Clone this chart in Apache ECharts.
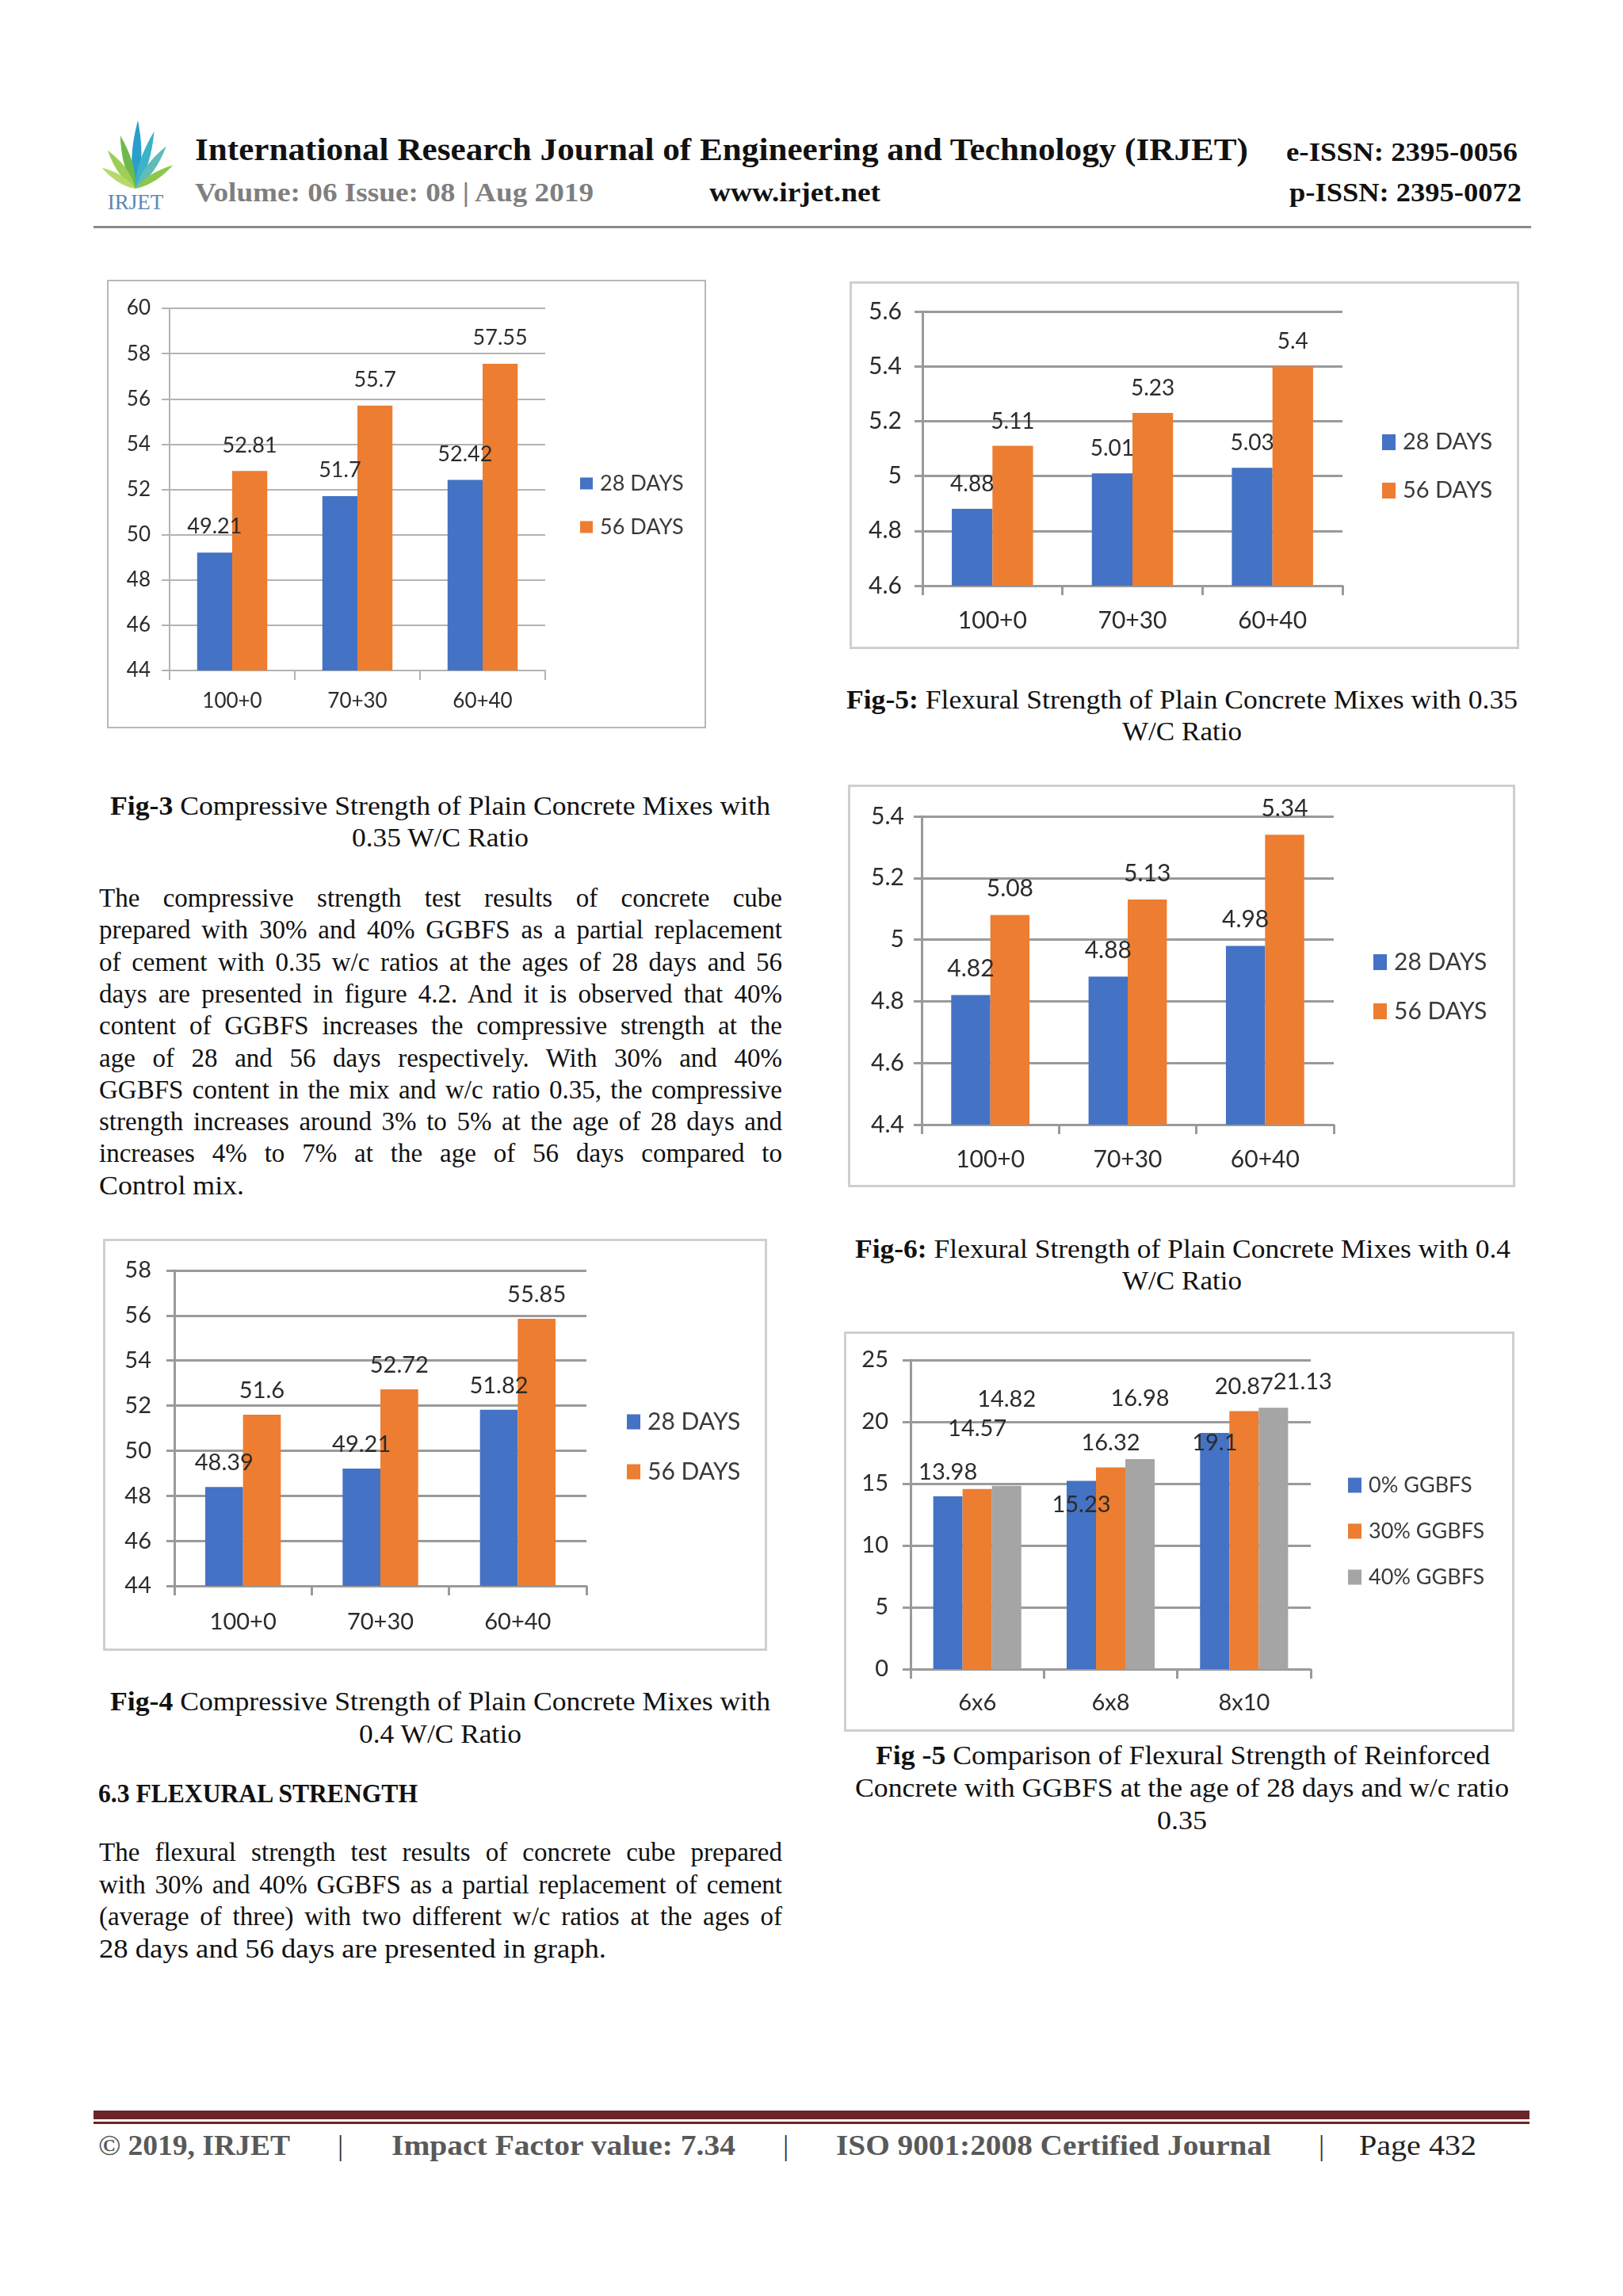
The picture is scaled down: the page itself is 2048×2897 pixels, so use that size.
<!DOCTYPE html>
<html><head><meta charset="utf-8">
<script src="https://cdn.jsdelivr.net/npm/echarts@6/dist/echarts.min.js"></script>
<style>
html,body{margin:0;padding:0;background:#fff;}
body{width:2048px;height:2897px;position:relative;overflow:hidden;}
.t{position:absolute;white-space:nowrap;font-family:"Liberation Serif","DejaVu Serif",serif;line-height:1.2;color:#111;transform-origin:0 0;}
.b{font-weight:bold;}
.g{color:#7f7f7f;}
.f{color:#595959;font-weight:bold;}
.chart{position:absolute;box-sizing:border-box;}
.rule{position:absolute;}
</style></head><body>

<!-- logo -->
<svg style="position:absolute;left:116px;top:146px" width="110" height="124" viewBox="0 0 110 124">
  <g transform="translate(55,92)">
    <path d="M0,0 C-9,-24 -7,-56 0,-86 C7,-56 9,-24 0,0Z" fill="#2a9fca" transform="rotate(2)"/>
    <path d="M0,0 C-8,-22 -6,-50 0,-76 C6,-50 8,-22 0,0Z" fill="#3bb3c9" transform="rotate(18)"/>
    <path d="M0,0 C-8,-20 -6,-44 0,-66 C6,-44 8,-20 0,0Z" fill="#5fbcb8" transform="rotate(36)"/>
    <path d="M0,0 C-7,-18 -5,-38 0,-56 C5,-38 7,-18 0,0Z" fill="#8cc84b" transform="rotate(58)"/>
    <path d="M0,0 C-8,-20 -6,-46 0,-70 C6,-46 8,-20 0,0Z" fill="#6fb94a" transform="rotate(-16)"/>
    <path d="M0,0 C-8,-18 -6,-40 0,-60 C6,-40 8,-18 0,0Z" fill="#9ccf55" transform="rotate(-36)"/>
    <path d="M0,0 C-7,-16 -5,-34 0,-50 C5,-34 7,-16 0,0Z" fill="#b8d96a" transform="rotate(-58)"/>
  </g>
  <text x="55" y="118" text-anchor="middle" font-family="Liberation Serif" font-size="27" fill="#5b86b5">IRJET</text>
</svg>

<!-- header -->
<div class="t b" data-x="246" data-y="190" data-w="1329" data-fs="40">International Research Journal of Engineering and Technology (IRJET)</div>
<div class="t b" data-x="1623" data-y="193" data-w="292" data-fs="34">e-ISSN: 2395-0056</div>
<div class="t b g" data-x="246" data-y="244" data-w="503" data-fs="34">Volume: 06 Issue: 08 | Aug 2019</div>
<div class="t b" data-x="895" data-y="244" data-w="216" data-fs="34">www.irjet.net</div>
<div class="t b" data-x="1627" data-y="244" data-w="293" data-fs="34">p-ISSN: 2395-0072</div>
<div class="rule" style="left:118px;top:285px;width:1814px;height:3px;background:#8a8a8a"></div>

<!-- charts -->
<div id="fig3" class="chart" style="left:135px;top:353px;width:756px;height:566px;border:2px solid #b8b8b8"></div>
<div id="fig5" class="chart" style="left:1072px;top:355px;width:845px;height:464px;border:3px solid #cfcfcf"></div>
<div id="fig6" class="chart" style="left:1070px;top:990px;width:842px;height:508px;border:3px solid #cfcfcf"></div>
<div id="fig4" class="chart" style="left:130px;top:1563px;width:838px;height:520px;border:3px solid #cfcfcf"></div>
<div id="figR" class="chart" style="left:1065px;top:1680px;width:846px;height:505px;border:3px solid #cfcfcf"></div>

<!-- captions and text, left column -->
<div class="t" data-x="139" data-y="1018" data-w="833" data-fs="33"><b>Fig-3</b> Compressive Strength of Plain Concrete Mixes with</div>
<div class="t" data-x="444" data-y="1058" data-w="223" data-fs="33">0.35 W/C Ratio</div>

<div class="t" data-j="1" data-x="125" data-y="1134" data-w="862" data-fs="33">The compressive strength test results of concrete cube</div>
<div class="t" data-j="1" data-x="125" data-y="1174" data-w="862" data-fs="33">prepared with 30% and 40% GGBFS as a partial replacement</div>
<div class="t" data-j="1" data-x="125" data-y="1215" data-w="862" data-fs="33">of cement with 0.35 w/c ratios at the ages of 28 days and 56</div>
<div class="t" data-j="1" data-x="125" data-y="1255" data-w="862" data-fs="33">days are presented in figure 4.2. And it is observed that 40%</div>
<div class="t" data-j="1" data-x="125" data-y="1295" data-w="862" data-fs="33">content of GGBFS increases the compressive strength at the</div>
<div class="t" data-j="1" data-x="125" data-y="1336" data-w="862" data-fs="33">age of 28 and 56 days respectively. With 30% and 40%</div>
<div class="t" data-j="1" data-x="125" data-y="1376" data-w="862" data-fs="33">GGBFS content in the mix and w/c ratio 0.35, the compressive</div>
<div class="t" data-j="1" data-x="125" data-y="1416" data-w="862" data-fs="33">strength increases around 3% to 5% at the age of 28 days and</div>
<div class="t" data-j="1" data-x="125" data-y="1456" data-w="862" data-fs="33">increases 4% to 7% at the age of 56 days compared to</div>
<div class="t" data-x="125" data-y="1497" data-w="183" data-fs="33">Control mix.</div>

<div class="t" data-x="139" data-y="2148" data-w="833" data-fs="33"><b>Fig-4</b> Compressive Strength of Plain Concrete Mixes with</div>
<div class="t" data-x="453" data-y="2189" data-w="205" data-fs="33">0.4 W/C Ratio</div>
<div class="t b" data-x="124" data-y="2264" data-w="403" data-fs="33">6.3 FLEXURAL STRENGTH</div>
<div class="t" data-j="1" data-x="125" data-y="2338" data-w="862" data-fs="33">The flexural strength test results of concrete cube prepared</div>
<div class="t" data-j="1" data-x="125" data-y="2379" data-w="862" data-fs="33">with 30% and 40% GGBFS as a partial replacement of cement</div>
<div class="t" data-j="1" data-x="125" data-y="2419" data-w="862" data-fs="33">(average of three) with two different w/c ratios at the ages of</div>
<div class="t" data-x="125" data-y="2460" data-w="640" data-fs="33">28 days and 56 days are presented in graph.</div>

<!-- captions right column -->
<div class="t" data-x="1068" data-y="884" data-w="847" data-fs="33"><b>Fig-5:</b> Flexural Strength of Plain Concrete Mixes with 0.35</div>
<div class="t" data-x="1416" data-y="924" data-w="151" data-fs="33">W/C Ratio</div>
<div class="t" data-x="1079" data-y="1577" data-w="827" data-fs="33"><b>Fig-6:</b> Flexural Strength of Plain Concrete Mixes with 0.4</div>
<div class="t" data-x="1416" data-y="1617" data-w="151" data-fs="33">W/C Ratio</div>
<div class="t" data-x="1105" data-y="2216" data-w="775" data-fs="33"><b>Fig -5</b> Comparison of Flexural Strength of Reinforced</div>
<div class="t" data-x="1079" data-y="2257" data-w="825" data-fs="33">Concrete with GGBFS at the age of 28 days and w/c ratio</div>
<div class="t" data-x="1460" data-y="2298" data-w="63" data-fs="33">0.35</div>

<!-- footer -->
<div class="rule" style="left:118px;top:2663px;width:1812px;height:11px;background:#6b2428"></div>
<div class="rule" style="left:118px;top:2677px;width:1812px;height:3px;background:#6b2428"></div>
<div class="t f" data-x="124" data-y="2708" data-w="242" data-fs="36">© 2019, IRJET</div>
<div class="t" data-x="426" data-y="2708" data-fs="36" style="color:#333">|</div>
<div class="t f" data-x="494" data-y="2708" data-w="434" data-fs="36">Impact Factor value: 7.34</div>
<div class="t" data-x="988" data-y="2708" data-fs="36" style="color:#333">|</div>
<div class="t f" data-x="1055" data-y="2708" data-w="549" data-fs="36">ISO 9001:2008 Certified Journal</div>
<div class="t" data-x="1664" data-y="2708" data-fs="36" style="color:#333">|</div>
<div class="t" data-x="1715" data-y="2708" data-w="148" data-fs="36" style="color:#222">Page 432</div>

<script>
// ---------- data ----------
const mixes = ['100+0', '70+30', '60+40'];
const ageNames = ['28 DAYS', '56 DAYS'];
const fig3Days28 = [49.21, 51.7, 52.42];
const fig3Days56 = [52.81, 55.7, 57.55];
const fig5Days28 = [4.88, 5.01, 5.03];
const fig5Days56 = [5.11, 5.23, 5.4];
const fig6Days28 = [4.82, 4.88, 4.98];
const fig6Days56 = [5.08, 5.13, 5.34];
const fig4Days28 = [48.39, 49.21, 51.82];
const fig4Days56 = [51.6, 52.72, 55.85];
const sections = ['6x6', '6x8', '8x10'];
const ggbfsNames = ['0% GGBFS', '30% GGBFS', '40% GGBFS'];
const ggbfs0 = [13.98, 15.23, 19.1];
const ggbfs30 = [14.57, 16.32, 20.87];
const ggbfs40 = [14.82, 16.98, 21.13];

// ---------- text fitting ----------
document.querySelectorAll('.t').forEach(function (el) {
  const fs = +el.dataset.fs;
  el.style.fontSize = fs + 'px';
  el.style.left = el.dataset.x + 'px';
  el.style.top = (el.dataset.y - 0.62 * fs) + 'px';
  const w = +el.dataset.w;
  if (!w) return;
  const nw = el.getBoundingClientRect().width;
  if (el.dataset.j && nw < w) {
    const n = (el.textContent.match(/ /g) || []).length;
    el.style.wordSpacing = ((w - nw) / n) + 'px';
  } else {
    el.style.transform = 'scaleX(' + (w / nw) + ')';
  }
});

// ---------- charts ----------
const BLUE = '#4472C4', ORANGE = '#ED7D31', GRAY = '#A5A5A5';
const FONT = 'Lato, "Open Sans", sans-serif';

function barChart(id, c) {
  const chart = echarts.init(document.getElementById(id), null, {renderer: 'canvas'});
  const series = c.series.map(function (s, i) {
    return {
      name: s.name, type: 'bar', barGap: '0%', barCategoryGap: c.catGap,
      itemStyle: {color: s.color},
      data: s.data.map(function (v, j) {
        const off = c.labelOffsets && c.labelOffsets[i] && c.labelOffsets[i][j];
        return off ? {value: v, label: {offset: off}} : v;
      }),
      label: {show: true, position: 'top', distance: c.labelDist, fontSize: c.labelFs,
              lineHeight: c.labelFs, fontFamily: FONT, color: '#2b2b2b'}
    };
  });
  const lineStyle = {color: c.lineColor, width: c.lineWidth};
  chart.setOption({
    animation: false,
    grid: c.grid,
    legend: {
      orient: 'vertical', left: c.legend.left, top: c.legend.top, itemGap: c.legend.gap,
      itemWidth: c.legend.iw, itemHeight: c.legend.ih, icon: 'rect',
      textStyle: {fontSize: c.legend.fs, lineHeight: 30, fontFamily: FONT, color: '#3a3a3a', padding: [0, 0, 0, 4]},
      data: c.series.map(function (s) { return s.name; })
    },
    xAxis: {
      type: 'category', data: c.categories,
      axisLine: {lineStyle: lineStyle},
      axisTick: {show: true, length: 12, lineStyle: lineStyle},
      axisLabel: {fontSize: c.axisFs, fontFamily: FONT, color: '#2b2b2b', margin: c.catMargin}
    },
    yAxis: {
      type: 'value', min: c.min, max: c.max, interval: c.interval,
      axisLine: {show: true, lineStyle: lineStyle},
      axisTick: {show: true, length: 10, lineStyle: lineStyle},
      splitLine: {lineStyle: lineStyle},
      axisLabel: {fontSize: c.axisFs, fontFamily: FONT, color: '#2b2b2b', margin: c.yMargin}
    },
    series: series
  });
}

barChart('fig3', {
  categories: mixes, min: 44, max: 60, interval: 2,
  grid: {left: 77, top: 34, width: 474, height: 457},
  legend: {left: 590, top: 235, gap: 25, iw: 16, ih: 15, fs: 27},
  catGap: '44%', labelDist: 19, labelFs: 27, axisFs: 26, catMargin: 26, yMargin: 24,
  lineColor: '#b3b3b3', lineWidth: 2,
  series: [{name: ageNames[0], data: fig3Days28, color: BLUE}, {name: ageNames[1], data: fig3Days56, color: ORANGE}]
});
barChart('fig5', {
  categories: mixes, min: 4.6, max: 5.6, interval: 0.2,
  grid: {left: 89, top: 35, width: 530, height: 346},
  legend: {left: 664, top: 180, gap: 31, iw: 17, ih: 20, fs: 29},
  catGap: '42%', labelDist: 17, labelFs: 28, axisFs: 30, catMargin: 29, yMargin: 26,
  lineColor: '#9a9a9a', lineWidth: 3,
  series: [{name: ageNames[0], data: fig5Days28, color: BLUE}, {name: ageNames[1], data: fig5Days56, color: ORANGE}]
});
barChart('fig6', {
  categories: mixes, min: 4.4, max: 5.4, interval: 0.2,
  grid: {left: 90, top: 37, width: 520, height: 389},
  legend: {left: 655, top: 201, gap: 32, iw: 17, ih: 20, fs: 30},
  catGap: '43%', labelDist: 18, labelFs: 30, axisFs: 30, catMargin: 29, yMargin: 22,
  lineColor: '#9a9a9a', lineWidth: 3,
  series: [{name: ageNames[0], data: fig6Days28, color: BLUE}, {name: ageNames[1], data: fig6Days56, color: ORANGE}]
});
barChart('fig4', {
  categories: mixes, min: 44, max: 58, interval: 2,
  grid: {left: 87, top: 37, width: 520, height: 398},
  legend: {left: 653, top: 208, gap: 33, iw: 17, ih: 19, fs: 30},
  catGap: '45%', labelDist: 16, labelFs: 29, axisFs: 29, catMargin: 31, yMargin: 29,
  lineColor: '#9a9a9a', lineWidth: 3,
  series: [{name: ageNames[0], data: fig4Days28, color: BLUE}, {name: ageNames[1], data: fig4Days56, color: ORANGE}]
});
barChart('figR', {
  categories: sections, min: 0, max: 25, interval: 5,
  grid: {left: 81, top: 33, width: 505, height: 390},
  legend: {left: 628, top: 171, gap: 28, iw: 17, ih: 19, fs: 27},
  catGap: '34%', labelDist: 16, labelFs: 29, axisFs: 29, catMargin: 28, yMargin: 28,
  lineColor: '#9a9a9a', lineWidth: 3,
  labelOffsets: [[null, [0, 61], [0, 43]], [[0, -46], null, null], [[0, -79], [0, -46], [37, -2]]],
  series: [{name: ggbfsNames[0], data: ggbfs0, color: BLUE}, {name: ggbfsNames[1], data: ggbfs30, color: ORANGE},
           {name: ggbfsNames[2], data: ggbfs40, color: GRAY}]
});
</script>
</body></html>
